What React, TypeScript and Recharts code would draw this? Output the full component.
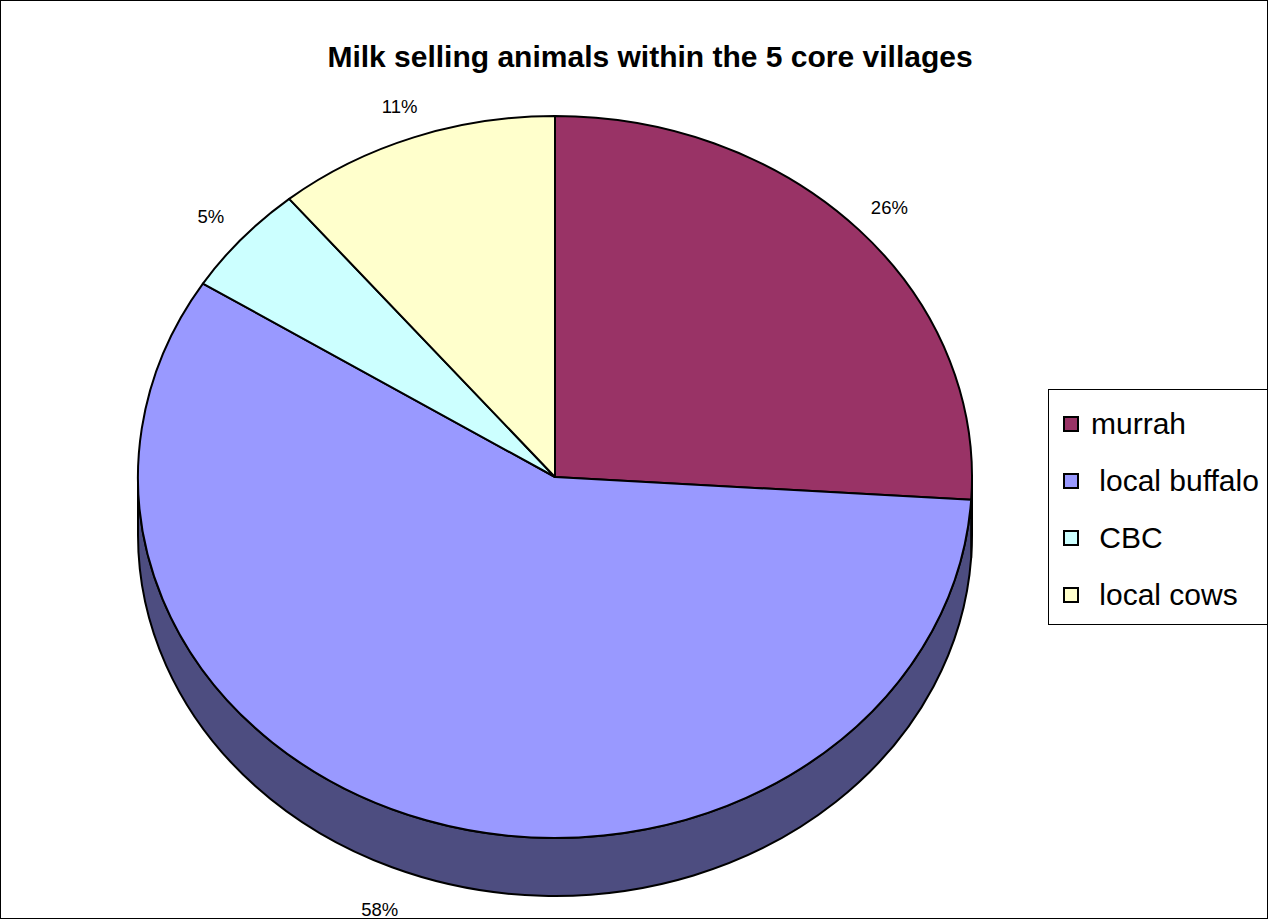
import React from 'react';
import { PieChart, Pie, Legend } from 'recharts';

const categories = ['murrah', ' local buffalo', ' CBC', ' local cows'];
const shares = [26, 58, 5, 11];
const topColors = ['#993366', '#9999FF', '#CCFFFF', '#FFFFCC'];
const sideColors = ['#4D1A33', '#4D4D80', '#668080', '#808066'];
const chartTitle = 'Milk selling animals within the 5 core villages';

const data = categories.map((name, i) => ({ name, value: shares[i] }));

const W = 1268;
const H = 919;
const CX = 555;
const CY = 477;
const R = 417;
const TILT = 361 / 417;
const DEPTH = 58;
const FONT = '"Liberation Sans", Arial, Helvetica, sans-serif';
const RAD = Math.PI / 180;

const pt = (cx: number, cy: number, r: number, a: number, dy = 0) => {
  const ry = r * TILT;
  return [cx + r * Math.cos(a * RAD), cy - ry * Math.sin(a * RAD) + dy];
};

const renderSide = (props: any) => {
  const { cx, cy, outerRadius: r, startAngle: s, endAngle: e, index } = props;
  const a1 = Math.min(s, 0);
  const a2 = Math.max(e, -180);
  if (a1 <= a2) return <g key={`side-${index}`} />;
  const ry = r * TILT;
  const p1 = pt(cx, cy, r, a1);
  const p2 = pt(cx, cy, r, a2);
  const q1 = pt(cx, cy, r, a1, DEPTH);
  const q2 = pt(cx, cy, r, a2, DEPTH);
  const large = a1 - a2 > 180 ? 1 : 0;
  const d = `M${p1[0]},${p1[1]} A${r},${ry} 0 ${large} 1 ${p2[0]},${p2[1]} L${q2[0]},${q2[1]} A${r},${ry} 0 ${large} 0 ${q1[0]},${q1[1]} Z`;
  return (
    <path
      key={`side-${index}`}
      d={d}
      fill={sideColors[index]}
      stroke="#000"
      strokeWidth={2}
      strokeLinejoin="round"
    />
  );
};

const renderTop = (props: any) => {
  const { cx, cy, outerRadius: r, startAngle: s, endAngle: e, index, percent } = props;
  const ry = r * TILT;
  const p1 = pt(cx, cy, r, s);
  const p2 = pt(cx, cy, r, e);
  const large = s - e > 180 ? 1 : 0;
  const d = `M${cx},${cy} L${p1[0]},${p1[1]} A${r},${ry} 0 ${large} 1 ${p2[0]},${p2[1]} Z`;
  const mid = (s + e) / 2;
  const c = Math.cos(mid * RAD);
  const sn = Math.sin(mid * RAD);
  const lower = sn < 0;
  const kx = lower ? 1.36 : 1.1;
  const ky = 1.09;
  const lx = cx + r * kx * c;
  const ly = cy - ry * ky * sn + (lower ? DEPTH : 0);
  return (
    <g key={`top-${index}`}>
      <path d={d} fill={topColors[index]} stroke="#000" strokeWidth={2} strokeLinejoin="round" />
      <text
        x={lx}
        y={ly}
        textAnchor="middle"
        dominantBaseline="central"
        fontSize={18.5}
        fontFamily={FONT}
        fill="#000"
      >
        {`${Math.round(percent * 100)}%`}
      </text>
    </g>
  );
};

const renderLegend = (props: any) => {
  const payload = (props.payload || []).filter((p: any) => p.type !== 'none');
  const ordered = [...payload].sort(
    (a: any, b: any) => categories.indexOf(a.value) - categories.indexOf(b.value)
  );
  return (
    <div
      style={{
        boxSizing: 'border-box',
        width: 222,
        height: 236,
        border: '1px solid #000',
        background: '#fff',
        paddingTop: 5,
        fontFamily: FONT,
      }}
    >
      {ordered.map((p: any, i: number) => {
        const idx = categories.indexOf(p.value);
        return (
          <div
            key={i}
            style={{ height: 57, display: 'flex', alignItems: 'center', paddingLeft: 14 }}
          >
            <span
              style={{
                display: 'inline-block',
                boxSizing: 'border-box',
                width: 16,
                height: 16,
                border: '2px solid #000',
                background: topColors[idx],
                marginRight: 12,
              }}
            />
            <span style={{ fontSize: 30, whiteSpace: 'pre', color: '#000', lineHeight: '30px' }}>
              {p.value}
            </span>
          </div>
        );
      })}
    </div>
  );
};

export default function App() {
  return (
    <div
      style={{
        position: 'absolute',
        left: 0,
        top: 0,
        width: W,
        height: H,
        background: '#fff',
      }}
    >
      <PieChart width={W} height={H} margin={{ top: 0, right: 0, bottom: 0, left: 0 }}>
        <Pie
          data={data}
          dataKey="value"
          nameKey="name"
          cx={CX}
          cy={CY}
          outerRadius={R}
          startAngle={90}
          endAngle={-270}
          fill="transparent"
          stroke="none"
          legendType="none"
          label={renderSide}
          labelLine={false}
          isAnimationActive={false}
        />
        <Pie
          data={data}
          dataKey="value"
          nameKey="name"
          cx={CX}
          cy={CY}
          outerRadius={R}
          startAngle={90}
          endAngle={-270}
          fill="transparent"
          stroke="none"
          legendType="square"
          label={renderTop}
          labelLine={false}
          isAnimationActive={false}
        />
        <Legend
          layout="vertical"
          align="right"
          verticalAlign="middle"
          itemSorter={null as any}
          content={renderLegend}
          wrapperStyle={{ left: 1048, top: 389, right: 'auto', width: 222, height: 236 }}
        />
      </PieChart>
      <div
        style={{
          position: 'absolute',
          left: 0,
          width: 1300,
          top: 39,
          textAlign: 'center',
          fontFamily: FONT,
          fontWeight: 'bold',
          fontSize: 30,
          lineHeight: '36px',
          color: '#000',
          pointerEvents: 'none',
        }}
      >
        {chartTitle}
      </div>
      <div
        style={{
          position: 'absolute',
          left: 0,
          top: 0,
          width: W,
          height: H,
          boxSizing: 'border-box',
          border: '1px solid #000',
          pointerEvents: 'none',
        }}
      />
    </div>
  );
}
